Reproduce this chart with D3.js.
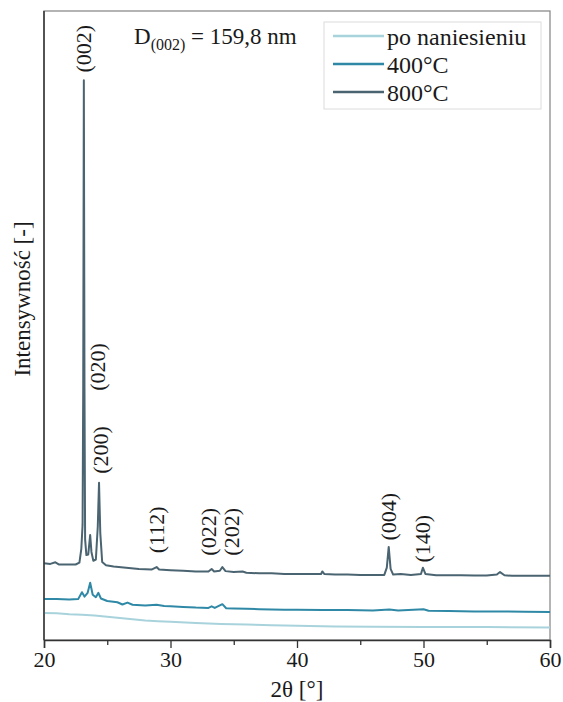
<!DOCTYPE html>
<html>
<head>
<meta charset="utf-8">
<script src="https://cdn.jsdelivr.net/npm/d3@7"></script>
<style>
  body { margin: 0; background: #fff; }
</style>
</head>
<body>
<svg id="chart" width="563" height="702"></svg>
<script>
// XRD patterns: [2theta, intensity (a.u.)]
const seriesNames = ['po naniesieniu', '400°C', '800°C'];
const seriesColors = ['#a9d3dc', '#2f89a6', '#4b6471'];

const asDeposited = [
  [20, 4.3], [21, 4.25], [22, 4.1], [23, 4.0], [24, 3.9], [25, 3.7], [26, 3.5],
  [27, 3.3], [28, 3.1], [29, 3.0], [30, 2.9], [32, 2.7], [34, 2.55], [36, 2.45],
  [38, 2.35], [40, 2.25], [43, 2.15], [46, 2.1], [50, 2.05], [55, 2.05], [60, 2.0]
];

const annealed400 = [
  [20, 6.5], [21, 6.5], [22, 6.45], [22.7, 6.5], [23.0, 7.6], [23.2, 6.9], [23.45, 7.5],
  [23.65, 9.1], [23.85, 7.2], [24.1, 6.8], [24.3, 7.5], [24.5, 6.6], [25, 6.2], [25.8, 6.0],
  [26.2, 5.65], [26.6, 5.95], [27.0, 5.6], [28, 5.5], [28.9, 5.6], [29.5, 5.4], [30, 5.35],
  [31, 5.25], [32, 5.15], [33, 5.1], [33.25, 5.35], [33.5, 5.1], [34.1, 5.7], [34.4, 5.05],
  [35, 5.0], [36, 4.95], [37, 4.9], [38, 4.85], [39, 4.8], [40, 4.8], [42, 4.75], [44, 4.75],
  [46, 4.7], [47.3, 4.85], [48, 4.7], [50, 4.9], [50.4, 4.65], [52, 4.6], [54, 4.55],
  [56, 4.55], [58, 4.5], [60, 4.45]
];

const annealed800 = [
  [20, 12.2], [20.5, 12.1], [20.9, 12.35], [21.2, 12.0], [22, 12.0], [22.5, 12.0], [22.8, 12.3],
  [22.95, 14.5], [23.05, 18.3], [23.1, 40], [23.15, 89.0], [23.2, 40], [23.25, 16], [23.35, 13.5],
  [23.5, 13.6], [23.65, 16.7], [23.75, 14], [23.9, 12.6], [24.1, 12.8], [24.25, 18], [24.35, 25.0],
  [24.45, 17], [24.6, 12.4], [24.9, 11.9], [25.5, 11.7], [26.5, 11.5], [27.5, 11.3], [28.5, 11.2],
  [28.9, 11.6], [29.1, 11.2], [30, 11.1], [31, 11.0], [32, 10.9], [33.0, 10.9], [33.25, 11.3],
  [33.45, 10.9], [33.9, 11.0], [34.1, 11.6], [34.35, 10.95], [35, 10.8], [35.7, 10.9], [36, 10.7],
  [37, 10.6], [38, 10.6], [39, 10.5], [40, 10.5], [41, 10.5], [41.9, 10.5], [42.0, 10.9],
  [42.15, 10.5], [43, 10.4], [44, 10.4], [45, 10.35], [46, 10.35], [46.9, 10.35], [47.1, 11.5],
  [47.25, 14.8], [47.4, 11.3], [47.6, 10.4], [48.2, 10.5], [49, 10.35], [49.8, 10.5], [49.95, 11.5],
  [50.15, 10.5], [51, 10.3], [52, 10.3], [53, 10.3], [54, 10.25], [55, 10.25], [55.8, 10.4],
  [56.05, 10.8], [56.4, 10.3], [57, 10.2], [58, 10.2], [59, 10.2], [60, 10.2]
];

// peak labels: hkl, 2theta, intensity at label centre
const peakLabels = ['(002)', '(020)', '(200)', '(112)', '(022)', '(202)', '(004)', '(140)'];
const peakPos = [23.15, 24.25, 24.45, 28.9, 33.0, 34.8, 47.25, 49.95];
const peakLabelY = [94.0, 43.4, 30.2, 17.5, 17.2, 17.2, 19.6, 16.1];

const xTicks = [20, 30, 40, 50, 60];
const xMinor = [25, 35, 45, 55];

const svg = d3.select('#chart');
const margin = { left: 44, right: 13, top: 11, bottom: 62 };
const width = 563, height = 702;
const serif = '"Liberation Serif"';
const ink = '#1a1a1a';

const x = d3.scaleLinear().domain([20, 60]).range([margin.left, width - margin.right]);
const y = d3.scaleLinear().domain([0, 100]).range([height - margin.bottom, margin.top]);

// frame
svg.append('rect')
  .attr('x', margin.left).attr('y', margin.top)
  .attr('width', x(60) - x(20)).attr('height', y(0) - y(100))
  .attr('fill', 'none').attr('stroke', '#8c8c8c').attr('stroke-width', 1.3);

// curves
const line = d3.line().x(d => x(d[0])).y(d => y(d[1]));
[asDeposited, annealed400, annealed800].forEach((s, i) => {
  svg.append('path')
    .datum(s)
    .attr('d', line)
    .attr('fill', 'none')
    .attr('stroke', seriesColors[i])
    .attr('stroke-width', 2)
    .attr('stroke-linejoin', 'round');
});

// x axis
const xAxis = svg.append('g')
  .attr('transform', `translate(0,${y(0)})`)
  .call(d3.axisBottom(x).tickValues(xTicks).tickSize(8).tickPadding(3));
xAxis.select('.domain').attr('stroke', '#333').attr('stroke-width', 1.5);
xAxis.selectAll('.tick line').attr('stroke', '#333').attr('stroke-width', 1.3);
xAxis.selectAll('text')
  .style('font-family', serif).style('font-size', '22px').attr('fill', ink);

svg.append('g')
  .attr('transform', `translate(0,${y(0)})`)
  .call(d3.axisBottom(x).tickValues(xMinor).tickSize(5).tickFormat(''))
  .call(g => g.select('.domain').remove())
  .selectAll('.tick line').attr('stroke', '#333').attr('stroke-width', 1.3);

// y axis line
svg.append('line')
  .attr('x1', margin.left).attr('x2', margin.left)
  .attr('y1', y(0)).attr('y2', y(100))
  .attr('stroke', '#333').attr('stroke-width', 1.5);

// axis titles
svg.append('text')
  .attr('x', (x(20) + x(60)) / 2).attr('y', 697)
  .attr('text-anchor', 'middle').attr('fill', ink)
  .style('font-family', serif).style('font-size', '23px')
  .text('2θ [°]');

svg.append('text')
  .attr('transform', 'translate(22,299) rotate(-90)')
  .attr('text-anchor', 'middle')
  .attr('dominant-baseline', 'central').attr('fill', ink)
  .style('font-family', serif).style('font-size', '23px')
  .text('Intensywność [-]');

// peak labels
peakLabels.forEach((lab, i) => {
  svg.append('text')
    .attr('transform', `translate(${x(peakPos[i])},${y(peakLabelY[i])}) rotate(-90)`)
    .attr('text-anchor', 'middle')
    .attr('dominant-baseline', 'central').attr('fill', ink)
    .style('font-family', serif).style('font-size', '22px')
    .text(lab);
});

// crystallite size note
const note = svg.append('text')
  .attr('x', 134).attr('y', 44).attr('fill', ink)
  .style('font-family', serif).style('font-size', '23px');
note.append('tspan').text('D');
note.append('tspan').attr('dy', 6).style('font-size', '16px').text('(002)');
note.append('tspan').attr('dy', -6).text(' = 159,8 nm');

// legend
const legend = svg.append('g');
legend.append('rect')
  .attr('x', 324).attr('y', 22).attr('width', 217).attr('height', 87)
  .attr('fill', '#fff').attr('stroke', '#dcdcdc').attr('stroke-width', 1);
seriesNames.forEach((name, i) => {
  const ly = 36 + i * 28;
  legend.append('line')
    .attr('x1', 333).attr('x2', 384).attr('y1', ly).attr('y2', ly)
    .attr('stroke', seriesColors[i]).attr('stroke-width', 2.5);
  legend.append('text')
    .attr('x', 387).attr('y', ly + 9).attr('fill', ink)
    .style('font-family', serif).style('font-size', '24px')
    .text(name);
});
</script>
</body>
</html>
